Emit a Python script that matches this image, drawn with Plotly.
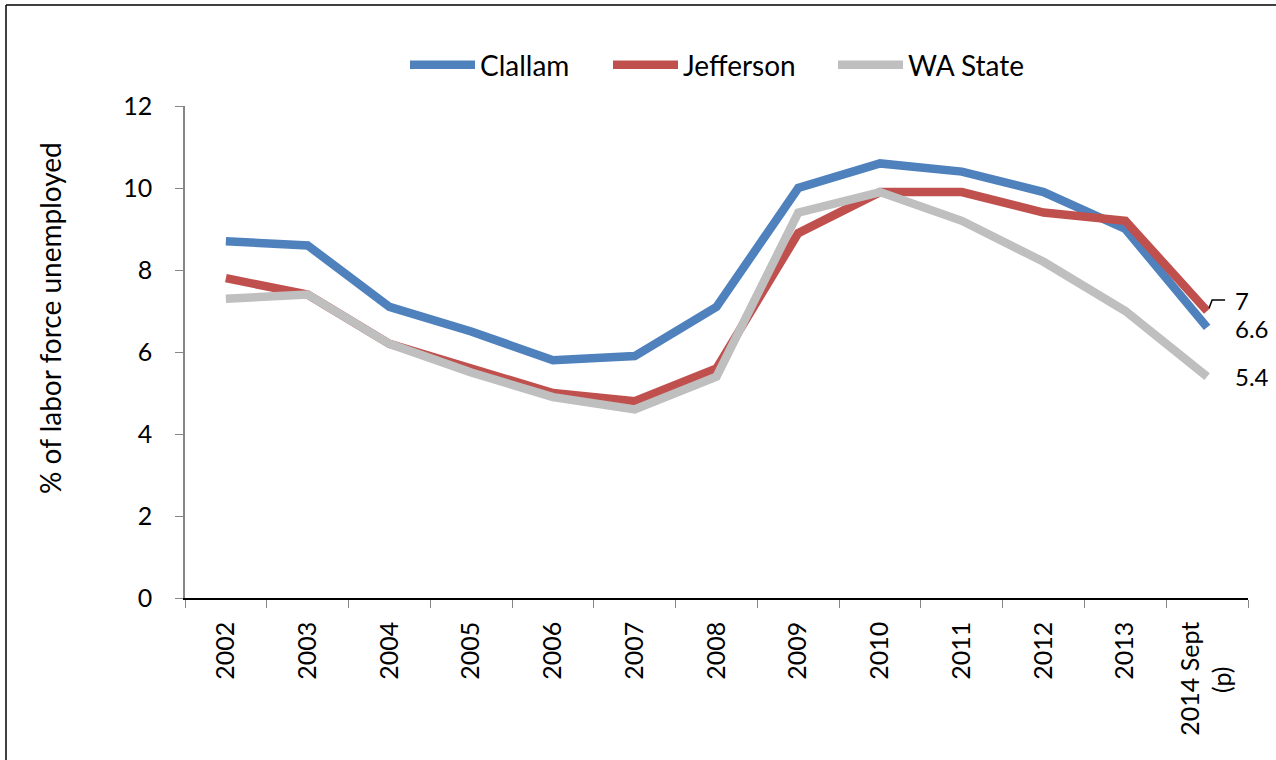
import plotly.graph_objects as go

PAD = "\u00a0" * 7
years = ["2002", "2003", "2004", "2005", "2006", "2007", "2008", "2009",
         "2010", "2011", "2012", "2013", "2014 Sept<br>(p)" + PAD]
clallam = [8.7, 8.6, 7.1, 6.5, 5.8, 5.9, 7.1, 10.0, 10.6, 10.4, 9.9, 9.0, 6.6]
jefferson = [7.8, 7.4, 6.2, 5.6, 5.0, 4.8, 5.6, 8.9, 9.9, 9.9, 9.4, 9.2, 7.0]
wa_state = [7.3, 7.4, 6.2, 5.5, 4.9, 4.6, 5.4, 9.4, 9.9, 9.2, 8.2, 7.0, 5.4]

series = [("Clallam", clallam, "#4F81BD"),
          ("Jefferson", jefferson, "#C0504D"),
          ("WA State", wa_state, "#BFBFBF")]

FONT = "Lato"
L, T, PW, PH = 185, 106, 1063, 492
legend_px = [405, 608, 833]  # left pixel of each legend entry

def px_x(p):
    return (p - L) / PW

def px_y(p):
    return (T + PH - p) / PH

fig = go.Figure()
legend_ids = ["legend", "legend2", "legend3"]
for (name, vals, col), lid in zip(series, legend_ids):
    fig.add_trace(go.Scatter(x=years, y=vals, mode="lines", name=name,
                             line=dict(color=col, width=8.5), cliponaxis=False,
                             legend=lid))

# end labels
last = years[-1]
label_shift = {"Clallam": -1, "Jefferson": 11, "WA State": 0}
for name, vals, col in series:
    v = vals[-1]
    fig.add_annotation(x=last, y=v, xref="x", yref="y", text=f"{v:g}",
                       showarrow=False, xanchor="left", yanchor="middle",
                       xshift=26, yshift=label_shift[name],
                       font=dict(family=FONT, size=24, color="black"))

# leader line for Jefferson label
fig.add_shape(type="path", xref="x", yref="y", xsizemode="pixel", ysizemode="pixel",
              xanchor=12, yanchor=jefferson[-1],
              path="M 2 3 L 5 11 L 18 11",
              line=dict(color="black", width=1.5))

# frame (top & left border)
fig.add_shape(type="line", xref="paper", yref="paper",
              x0=px_x(6), x1=px_x(1280), y0=px_y(5), y1=px_y(5),
              line=dict(color="black", width=1.5))
fig.add_shape(type="line", xref="paper", yref="paper",
              x0=px_x(6), x1=px_x(6), y0=px_y(5), y1=px_y(765),
              line=dict(color="black", width=1.5))

fig.add_annotation(text="% of labor force unemployed", textangle=-90,
                   xref="paper", yref="paper", x=px_x(50), y=px_y(318),
                   showarrow=False, xanchor="center", yanchor="middle",
                   font=dict(family=FONT, size=28, color="black"))

leg_common = dict(orientation="h", yanchor="middle", xanchor="left",
                  itemwidth=65, font=dict(family=FONT, size=28, color="black"),
                  bgcolor="rgba(0,0,0,0)", borderwidth=0)

fig.update_layout(
    width=1276, height=760,
    margin=dict(l=L, r=1276 - L - PW, t=T, b=760 - T - PH, autoexpand=False),
    paper_bgcolor="white", plot_bgcolor="white",
    font=dict(family=FONT, size=24, color="black"),
    showlegend=True,
    legend=dict(x=px_x(legend_px[0]), y=px_y(65), **leg_common),
    legend2=dict(x=px_x(legend_px[1]), y=px_y(65), **leg_common),
    legend3=dict(x=px_x(legend_px[2]), y=px_y(65), **leg_common),
    xaxis=dict(type="category", tickangle=-90, showgrid=False, showline=True,
               linecolor="black", linewidth=1.5, ticks="outside", ticklen=8,
               tickcolor="#868686", tickson="boundaries", ticklabelstandoff=12,
               tickfont=dict(family=FONT, size=25, color="black"),
               range=[-0.5, 12.5]),
    yaxis=dict(range=[0, 12], dtick=2, showgrid=False, showline=True,
               linecolor="#868686", linewidth=1.5, ticks="outside", ticklen=8,
               tickcolor="#868686", zeroline=False, ticklabelstandoff=18,
               tickfont=dict(family=FONT, size=25, color="black")),
)

fig.write_html("out.html", config={"displayModeBar": False},
               post_script="document.body.style.margin='0';")
